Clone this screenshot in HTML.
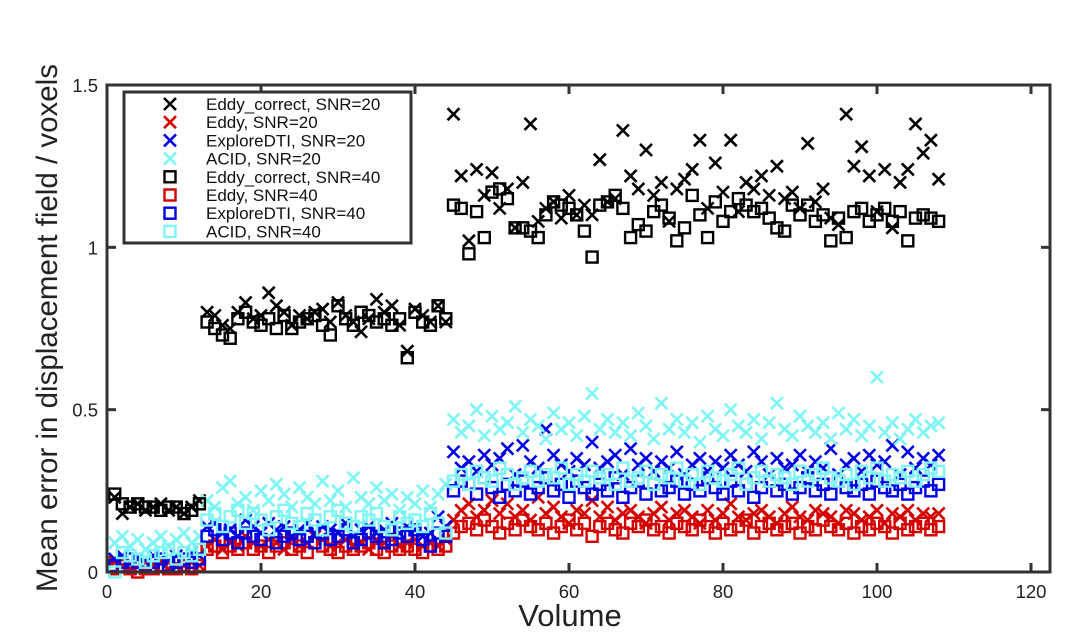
<!DOCTYPE html>
<html><head><meta charset="utf-8"><style>
html,body{margin:0;padding:0;background:#fff;}
svg{display:block;font-family:"Liberation Sans",sans-serif;}
</style></head><body>
<svg id="chart" width="1082" height="639" viewBox="0 0 1082 639" xmlns="http://www.w3.org/2000/svg">
<rect width="1082" height="639" fill="#fff"/>
<g id="marks"></g>
<g id="axes"></g>
<text x="570" y="626" font-size="31" text-anchor="middle" fill="#222">Volume</text>
<text transform="translate(57,328) rotate(-90)" font-size="29.5" text-anchor="middle" fill="#222">Mean error in displacement field / voxels</text>
<g id="legend"></g>
</svg>
<script>
const seriesNames=["Eddy_correct, SNR=20","Eddy, SNR=20","ExploreDTI, SNR=20","ACID, SNR=20","Eddy_correct, SNR=40","Eddy, SNR=40","ExploreDTI, SNR=40","ACID, SNR=40"];
const xTicks=[0,20,40,60,80,100,120];
const yTicks=[0,0.5,1,1.5];
const yTickLabels=["0","0.5","1","1.5"];
const ec20=[0.23,0.18,0.20,0.21,0.19,0.20,0.21,0.19,0.20,0.18,0.20,0.22,
0.80,0.79,0.76,0.75,0.80,0.83,0.78,0.79,0.86,0.82,0.80,0.76,0.79,0.78,0.80,0.81,0.77,0.83,0.79,0.77,0.74,0.78,0.84,0.80,0.82,0.76,0.68,0.81,0.79,0.77,0.82,0.77,
1.41,1.22,1.02,1.24,1.16,1.23,1.12,1.18,1.06,1.20,1.38,1.08,1.12,1.14,1.09,1.16,1.10,1.13,1.10,1.27,1.14,1.15,1.36,1.22,1.18,1.30,1.16,1.20,1.08,1.18,1.21,1.24,1.33,1.12,1.26,1.17,1.33,1.11,1.20,1.18,1.22,1.16,1.25,1.15,1.17,1.12,1.32,1.14,1.18,1.09,1.07,1.41,1.25,1.31,1.22,1.11,1.24,1.06,1.20,1.24,1.38,1.29,1.33,1.21];
const e20=[0.03,0.02,0.01,0.02,0.01,0.02,0.03,0.01,0.02,0.02,0.03,0.02,
0.08,0.10,0.07,0.09,0.08,0.11,0.09,0.08,0.10,0.09,0.07,0.10,0.08,0.09,0.11,0.10,0.08,0.09,0.10,0.08,0.09,0.07,0.10,0.09,0.11,0.08,0.09,0.10,0.08,0.09,0.08,0.10,
0.16,0.19,0.21,0.17,0.19,0.22,0.18,0.21,0.17,0.19,0.16,0.23,0.18,0.20,0.17,0.15,0.19,0.18,0.22,0.17,0.20,0.16,0.18,0.19,0.17,0.15,0.18,0.20,0.16,0.18,0.19,0.17,0.15,0.19,0.16,0.18,0.21,0.17,0.16,0.18,0.19,0.17,0.15,0.18,0.20,0.17,0.16,0.19,0.18,0.17,0.15,0.19,0.18,0.16,0.17,0.19,0.15,0.18,0.17,0.19,0.16,0.18,0.17,0.18];
const x20=[0.04,0.05,0.03,0.04,0.03,0.05,0.04,0.03,0.05,0.04,0.06,0.05,
0.14,0.15,0.12,0.13,0.11,0.16,0.14,0.12,0.15,0.13,0.14,0.11,0.13,0.15,0.12,0.14,0.13,0.12,0.15,0.11,0.13,0.14,0.12,0.13,0.15,0.12,0.14,0.13,0.11,0.12,0.17,0.14,
0.37,0.32,0.34,0.31,0.36,0.33,0.35,0.38,0.30,0.39,0.34,0.32,0.44,0.36,0.33,0.31,0.35,0.33,0.40,0.32,0.34,0.36,0.30,0.38,0.33,0.35,0.31,0.34,0.32,0.37,0.30,0.33,0.35,0.31,0.34,0.32,0.36,0.33,0.31,0.37,0.34,0.30,0.35,0.32,0.33,0.36,0.31,0.34,0.32,0.38,0.30,0.33,0.35,0.31,0.36,0.33,0.34,0.39,0.30,0.37,0.32,0.35,0.33,0.36];
const a20=[0.09,0.11,0.08,0.10,0.07,0.09,0.11,0.08,0.10,0.12,0.09,0.11,
0.22,0.20,0.26,0.28,0.21,0.23,0.19,0.25,0.22,0.27,0.24,0.20,0.26,0.23,0.21,0.28,0.22,0.25,0.20,0.29,0.23,0.21,0.26,0.22,0.24,0.19,0.23,0.21,0.25,0.20,0.24,0.27,
0.47,0.43,0.45,0.50,0.42,0.48,0.44,0.46,0.51,0.43,0.47,0.45,0.41,0.49,0.44,0.46,0.42,0.48,0.55,0.44,0.47,0.43,0.46,0.42,0.49,0.45,0.41,0.52,0.44,0.47,0.43,0.46,0.40,0.48,0.44,0.42,0.50,0.45,0.43,0.47,0.41,0.46,0.52,0.44,0.42,0.48,0.45,0.43,0.46,0.41,0.49,0.44,0.47,0.42,0.45,0.60,0.43,0.46,0.41,0.44,0.47,0.43,0.45,0.46];
const ec40=[0.24,0.21,0.20,0.21,0.20,0.20,0.19,0.20,0.20,0.18,0.19,0.21,
0.77,0.75,0.73,0.72,0.78,0.80,0.77,0.76,0.78,0.75,0.79,0.75,0.77,0.78,0.79,0.76,0.73,0.82,0.78,0.76,0.80,0.79,0.77,0.78,0.76,0.78,0.66,0.80,0.77,0.76,0.82,0.78,
1.13,1.12,0.98,1.11,1.03,1.17,1.18,1.15,1.06,1.06,1.05,1.03,1.10,1.14,1.13,1.12,1.10,1.05,0.97,1.13,1.14,1.16,1.12,1.03,1.07,1.05,1.11,1.13,1.09,1.02,1.06,1.16,1.10,1.03,1.14,1.08,1.11,1.15,1.13,1.11,1.12,1.09,1.06,1.05,1.13,1.10,1.13,1.08,1.10,1.02,1.09,1.03,1.11,1.12,1.08,1.10,1.12,1.08,1.11,1.02,1.09,1.10,1.09,1.08];
const e40=[0.01,0.02,0.01,0.00,0.01,0.01,0.02,0.01,0.01,0.02,0.01,0.02,
0.07,0.08,0.06,0.08,0.07,0.09,0.07,0.08,0.06,0.08,0.09,0.07,0.08,0.06,0.09,0.08,0.07,0.06,0.08,0.07,0.08,0.09,0.07,0.06,0.08,0.07,0.08,0.07,0.06,0.08,0.07,0.08,
0.12,0.14,0.15,0.13,0.16,0.14,0.12,0.15,0.13,0.16,0.14,0.13,0.15,0.12,0.14,0.16,0.13,0.15,0.11,0.14,0.15,0.13,0.12,0.15,0.14,0.16,0.13,0.14,0.12,0.15,0.14,0.13,0.16,0.14,0.12,0.15,0.13,0.14,0.16,0.12,0.14,0.15,0.13,0.14,0.15,0.12,0.14,0.13,0.16,0.14,0.13,0.15,0.12,0.14,0.13,0.15,0.14,0.12,0.15,0.13,0.14,0.15,0.13,0.14];
const x40=[0.02,0.03,0.04,0.03,0.02,0.03,0.04,0.02,0.03,0.04,0.03,0.04,
0.11,0.13,0.10,0.12,0.09,0.12,0.11,0.10,0.13,0.09,0.11,0.12,0.10,0.11,0.09,0.12,0.10,0.11,0.13,0.09,0.10,0.12,0.11,0.09,0.10,0.12,0.11,0.13,0.10,0.08,0.12,0.11,
0.25,0.28,0.27,0.24,0.29,0.26,0.23,0.27,0.25,0.28,0.24,0.26,0.29,0.25,0.27,0.23,0.28,0.26,0.24,0.27,0.25,0.29,0.23,0.26,0.28,0.24,0.27,0.25,0.26,0.28,0.24,0.27,0.25,0.29,0.26,0.24,0.28,0.25,0.27,0.23,0.26,0.28,0.25,0.27,0.24,0.26,0.29,0.25,0.27,0.24,0.28,0.26,0.25,0.27,0.24,0.28,0.26,0.25,0.27,0.24,0.26,0.28,0.25,0.27];
const a40=[0.00,0.06,0.05,0.04,0.03,0.05,0.06,0.07,0.04,0.06,0.05,0.07,
0.16,0.18,0.14,0.17,0.19,0.15,0.18,0.16,0.13,0.17,0.19,0.15,0.14,0.18,0.16,0.13,0.17,0.19,0.15,0.14,0.17,0.16,0.18,0.14,0.13,0.17,0.15,0.16,0.14,0.18,0.15,0.12,
0.28,0.30,0.27,0.31,0.29,0.28,0.32,0.30,0.27,0.29,0.31,0.28,0.30,0.29,0.32,0.27,0.30,0.28,0.31,0.29,0.30,0.27,0.32,0.28,0.29,0.31,0.27,0.30,0.29,0.32,0.28,0.30,0.27,0.31,0.29,0.28,0.30,0.32,0.27,0.29,0.31,0.28,0.30,0.29,0.27,0.31,0.28,0.30,0.32,0.29,0.28,0.30,0.27,0.31,0.29,0.32,0.28,0.30,0.29,0.31,0.28,0.30,0.32,0.31];

const NS="http://www.w3.org/2000/svg";
const L=107,R=1050,T=85,B=572;
function xs(v){return L+v*(1031-L)/120;}
function ys(v){return B-v*(B-T)/1.5;}
function mk(tag,attrs,parent){const e=document.createElementNS(NS,tag);for(const k in attrs)e.setAttribute(k,attrs[k]);parent.appendChild(e);return e;}
const series=[
 {d:ec20,c:"#000",m:"x",n:"eddy-correct-snr20"},{d:e20,c:"#d40000",m:"x",n:"eddy-snr20"},
 {d:x20,c:"#0000e6",m:"x",n:"exploredti-snr20"},{d:a20,c:"#7ff5f5",m:"x",n:"acid-snr20"},
 {d:ec40,c:"#000",m:"s",n:"eddy-correct-snr40"},{d:e40,c:"#d40000",m:"s",n:"eddy-snr40"},
 {d:x40,c:"#0000e6",m:"s",n:"exploredti-snr40"},{d:a40,c:"#7ff5f5",m:"s",n:"acid-snr40"}];
function marker(parent,cx,cy,m,c){
 if(m==="x"){const s=6;return mk("path",{d:`M${cx-s},${cy-s}L${cx+s},${cy+s}M${cx-s},${cy+s}L${cx+s},${cy-s}`,stroke:c,"stroke-width":2.6,fill:"none"},parent);}
 const s=5.5;return mk("rect",{x:cx-s,y:cy-s,width:2*s,height:2*s,stroke:c,"stroke-width":2.4,fill:"none"},parent);
}
const marks=document.getElementById("marks");
series.forEach(se=>{
 const g=mk("g",{},marks);
 
 
 se.d.forEach((v,i)=>{
  const p=marker(g,xs(i+1),ys(v),se.m,se.c);
  
  
 });
});
const ax=document.getElementById("axes");
const frame=mk("rect",{x:L,y:T,width:R-L,height:B-T,fill:"none",stroke:"#333","stroke-width":3},ax);


xTicks.forEach(t=>{
 const x=xs(t);
 mk("line",{x1:x,y1:B,x2:x,y2:B-9,stroke:"#333","stroke-width":3},ax);
 mk("line",{x1:x,y1:T,x2:x,y2:T+9,stroke:"#333","stroke-width":3},ax);
 const tx=mk("text",{x:x,y:B+26,"font-size":18.5,"text-anchor":"middle",fill:"#222"},ax);
 tx.textContent=t;
 
 
});
yTicks.forEach((t,i)=>{
 const y=ys(t);
 mk("line",{x1:L,y1:y,x2:L+9,y2:y,stroke:"#333","stroke-width":3},ax);
 mk("line",{x1:R,y1:y,x2:R-9,y2:y,stroke:"#333","stroke-width":3},ax);
 const tx=mk("text",{x:L-9,y:y+7,"font-size":18.5,"text-anchor":"end",fill:"#222"},ax);
 tx.textContent=yTickLabels[i];
 
 
});
const lg=document.getElementById("legend");
mk("rect",{x:124,y:92,width:287,height:151,fill:"#fff",stroke:"#333","stroke-width":3},lg);
series.forEach((se,i)=>{
 const y=104+i*18.2;
 const ent=mk("g",{},lg);
 
 
 marker(ent,170,y,se.m,se.c);
 const t=mk("text",{x:206,y:y+6,"font-size":17,fill:"#111"},ent);
 t.textContent=seriesNames[i];
});
</script>
</body></html>
